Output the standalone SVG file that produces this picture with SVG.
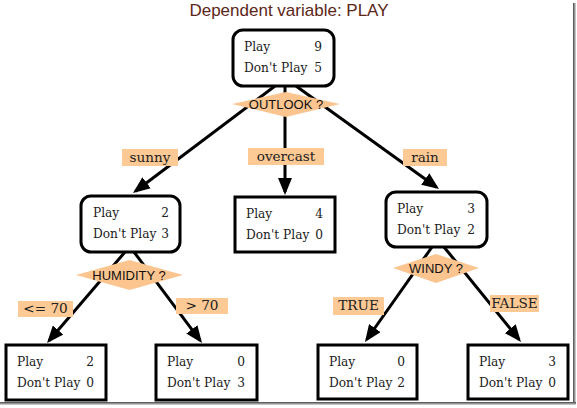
<svg xmlns="http://www.w3.org/2000/svg" width="577" height="408" viewBox="0 0 577 408">
<defs>
<style>
.box{fill:#fff;stroke:#000;stroke-width:3}
.t{font-family:"DejaVu Serif","Liberation Serif",serif;font-size:12.2px;fill:#222}
.n{text-anchor:end}
.lbl{fill:#fdc994}
.lt{font-family:"DejaVu Serif","Liberation Serif",serif;font-size:13.6px;fill:#222;text-anchor:middle}
.dia{fill:#fcc590}
.dt{font-family:"Liberation Sans",Arial,sans-serif;font-size:13px;fill:#111;text-anchor:middle}
.edge{stroke:#000;stroke-width:3;fill:none;marker-end:url(#ah)}
</style>
<marker id="ah" viewBox="0 0 17 14" refX="14" refY="7" markerWidth="17" markerHeight="14" markerUnits="userSpaceOnUse" orient="auto">
<path d="M0,0 L17,7 L0,14 z" fill="#000"/>
</marker>
<linearGradient id="gr" x1="0" y1="0" x2="1" y2="0"><stop offset="0" stop-color="#444"/><stop offset="1" stop-color="#e0e0e0"/></linearGradient>
<linearGradient id="gb" x1="0" y1="0" x2="0" y2="1"><stop offset="0" stop-color="#444"/><stop offset="1" stop-color="#e0e0e0"/></linearGradient>
</defs>
<rect width="577" height="408" fill="#fff"/>
<rect x="573" y="3" width="3" height="402" fill="url(#gr)"/>
<rect x="0" y="402" width="576" height="3" fill="url(#gb)"/>
<text x="289" y="16" text-anchor="middle" font-family="'Liberation Sans',Arial,sans-serif" font-size="17" fill="#5c2618">Dependent variable: PLAY</text>
<g id="connectors">
<line class="edge" x1="275" y1="86" x2="135.4" y2="191.2"/>
<line class="edge" x1="285" y1="86" x2="285" y2="192"/>
<line class="edge" x1="296" y1="86" x2="436.6" y2="187.2"/>
<line class="edge" x1="125" y1="252" x2="49" y2="340.7"/>
<line class="edge" x1="134" y1="252" x2="200.2" y2="340.6"/>
<line class="edge" x1="432" y1="247" x2="366.7" y2="339.5"/>
<line class="edge" x1="444" y1="247" x2="519.1" y2="339.6"/>
</g>
<g id="root">
<rect class="box" x="233" y="30" width="101" height="56" rx="10"/>
<text class="t" x="244" y="51">Play</text><text class="t n" x="322" y="51">9</text>
<text class="t" x="244" y="72">Don't Play</text><text class="t n" x="322" y="72">5</text>
</g>
<g id="outlook">
<polygon class="dia" points="232,104 286,92 340,104 286,117"/>
<text class="dt" x="286" y="109">OUTLOOK ?</text>
</g>
<g id="sunny">
<rect class="box" x="81" y="196" width="99" height="56" rx="10"/>
<text class="t" x="93" y="217">Play</text><text class="t n" x="169" y="217">2</text>
<text class="t" x="93" y="238">Don't Play</text><text class="t n" x="169" y="238">3</text>
</g>
<g id="humidity">
<polygon class="dia" points="76,275 129.5,260 183,275 129.5,290"/>
<text class="dt" x="129" y="280">HUMIDITY ?</text>
</g>
<g id="overcast">
<rect class="box" x="235" y="197" width="100" height="55"/>
<text class="t" x="246" y="218">Play</text><text class="t n" x="323" y="218">4</text>
<text class="t" x="246" y="239">Don't Play</text><text class="t n" x="323" y="239">0</text>
</g>
<g id="rain">
<rect class="box" x="386" y="192" width="101" height="55" rx="10"/>
<text class="t" x="397" y="213">Play</text><text class="t n" x="475" y="213">3</text>
<text class="t" x="397" y="234">Don't Play</text><text class="t n" x="475" y="234">2</text>
</g>
<g id="windy">
<polygon class="dia" points="393,268 436,254 479,268 436,283"/>
<text class="dt" x="436" y="273">WINDY ?</text>
</g>
<g id="leaf1">
<rect class="box" x="6" y="345" width="100" height="55"/>
<text class="t" x="17" y="366">Play</text><text class="t n" x="94" y="366">2</text>
<text class="t" x="17" y="387">Don't Play</text><text class="t n" x="94" y="387">0</text>
</g>
<g id="leaf2">
<rect class="box" x="156" y="345" width="101" height="55"/>
<text class="t" x="167" y="366">Play</text><text class="t n" x="245" y="366">0</text>
<text class="t" x="167" y="387">Don't Play</text><text class="t n" x="245" y="387">3</text>
</g>
<g id="leaf3">
<rect class="box" x="318" y="345" width="99" height="54"/>
<text class="t" x="329" y="366">Play</text><text class="t n" x="405" y="366">0</text>
<text class="t" x="329" y="387">Don't Play</text><text class="t n" x="405" y="387">2</text>
</g>
<g id="leaf4">
<rect class="box" x="468" y="345" width="100" height="54"/>
<text class="t" x="479" y="366">Play</text><text class="t n" x="556" y="366">3</text>
<text class="t" x="479" y="387">Don't Play</text><text class="t n" x="556" y="387">0</text>
</g>
<g id="labels">
<rect class="lbl" x="122" y="149" width="56" height="17"/><text class="lt" x="150" y="162">sunny</text>
<rect class="lbl" x="248" y="148" width="76" height="17"/><text class="lt" x="286" y="161">overcast</text>
<rect class="lbl" x="403" y="149" width="44" height="17"/><text class="lt" x="425" y="162">rain</text>
<rect class="lbl" x="18" y="301" width="55" height="16"/><text class="lt" x="45.5" y="313">&lt;= 70</text>
<rect class="lbl" x="176" y="298" width="52" height="16"/><text class="lt" x="202" y="310">&gt; 70</text>
<rect class="lbl" x="333" y="297" width="51" height="18"/><text class="lt" x="358.5" y="310">TRUE</text>
<rect class="lbl" x="490" y="295" width="49" height="17"/><text class="lt" x="514.5" y="308">FALSE</text>
</g>
</svg>
